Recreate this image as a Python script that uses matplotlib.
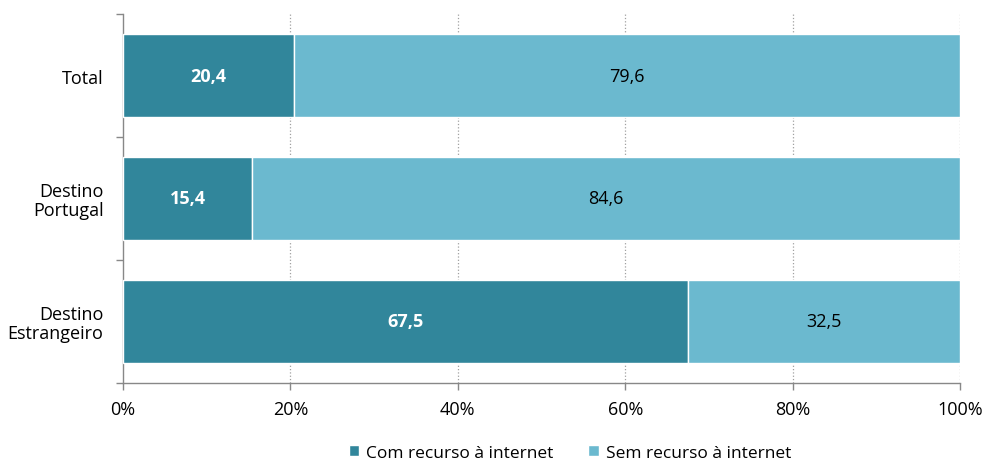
import matplotlib.pyplot as plt
from matplotlib.ticker import FixedLocator, NullFormatter

plt.rcParams['font.family'] = ['Open Sans', 'DejaVu Sans']

categorias = ['Total', 'Destino\nPortugal', 'Destino\nEstrangeiro']
com_internet = [20.4, 15.4, 67.5]
sem_internet = [79.6, 84.6, 32.5]
series = ['Com recurso à internet', 'Sem recurso à internet']

cor_com = '#31869B'
cor_sem = '#6BB9CF'
fs = 13

fig = plt.figure(figsize=(9.85, 4.64), dpi=100)
ax = fig.add_axes([123 / 985, 80 / 464, 837 / 985, 369 / 464])

y = list(range(len(categorias)))
ax.barh(y, com_internet, height=0.667, color=cor_com, edgecolor='white',
        linewidth=1, label=series[0], zorder=3)
ax.barh(y, sem_internet, left=com_internet, height=0.667, color=cor_sem,
        edgecolor='white', linewidth=1, label=series[1], zorder=3)

def fmt(v):
    return f'{v:.1f}'.replace('.', ',')

for i in y:
    ax.text(com_internet[i] / 2, i, fmt(com_internet[i]), ha='center', va='center',
            color='white', fontweight='bold', fontsize=fs, zorder=4)
    ax.text(com_internet[i] + sem_internet[i] / 2, i, fmt(sem_internet[i]),
            ha='center', va='center', color='black', fontsize=fs, zorder=4)

ax.set_xlim(0, 100)
ax.set_ylim(len(categorias) - 0.5, -0.5)
ax.set_xticks([0, 20, 40, 60, 80, 100])
ax.set_xticklabels(['0%', '20%', '40%', '60%', '80%', '100%'], fontsize=fs)
ax.set_yticks(y)
ax.set_yticklabels(categorias, fontsize=fs, ha='right', linespacing=1.05)
ax.tick_params(axis='y', which='major', length=0, pad=14)
ax.yaxis.set_minor_locator(FixedLocator([-0.5, 0.5, 1.5, 2.5]))
ax.yaxis.set_minor_formatter(NullFormatter())
ax.tick_params(axis='y', which='minor', length=5, color='#888888', width=1)
ax.tick_params(axis='x', length=5, color='#888888', width=1, pad=7)

for s in ['top', 'right']:
    ax.spines[s].set_visible(False)
for s in ['left', 'bottom']:
    ax.spines[s].set_color('#888888')
    ax.spines[s].set_linewidth(1)

for xv in [20, 40, 60, 80, 100]:
    ax.axvline(xv, color='#a0a0a0', linestyle=':', linewidth=0.9, zorder=1)

fig.legend(loc='center', bbox_to_anchor=(570 / 985, 1 - 454 / 464), ncol=2,
           frameon=False, fontsize=12.5, handlelength=0.6, handleheight=0.6,
           handletextpad=0.4, columnspacing=2.0)

fig.savefig('out.png', dpi=100)
